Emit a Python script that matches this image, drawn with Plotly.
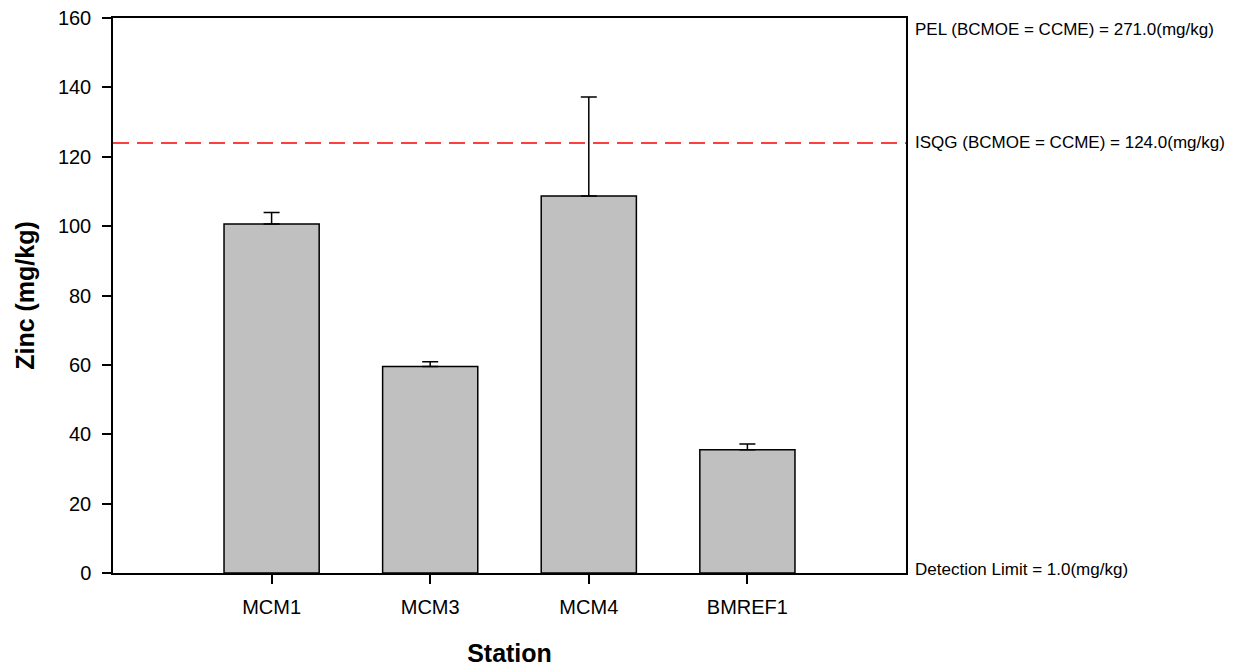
import plotly.graph_objects as go

stations = ["MCM1", "MCM3", "MCM4", "BMREF1"]
zinc_mean = [100.6, 59.5, 108.7, 35.5]
zinc_err = [3.3, 1.4, 28.5, 1.7]
isqg = 124.0
detection_limit = 1.0
ref_labels = ["PEL (BCMOE = CCME) = 271.0(mg/kg)",
              "ISQG (BCMOE = CCME) = 124.0(mg/kg)",
              "Detection Limit = 1.0(mg/kg)"]
y_ticks = [0, 20, 40, 60, 80, 100, 120, 140, 160]

font_family = "Arial, Liberation Sans, sans-serif"
xpos = list(range(1, len(stations) + 1))

fig = go.Figure()
fig.add_trace(go.Bar(
    x=xpos, y=zinc_mean, width=0.6,
    marker=dict(color="#c0c0c0", line=dict(color="black", width=1.5)),
    error_y=dict(type="data", symmetric=False, array=zinc_err,
                 arrayminus=[0] * len(zinc_err), color="black", thickness=1.5, width=8),
    showlegend=False,
))

fig.add_shape(type="line", xref="paper", x0=0, x1=1, yref="y", y0=isqg, y1=isqg,
              line=dict(color="red", width=1.5, dash="16px,8px"))

ann_font = dict(size=17, color="black", family=font_family)
fig.add_annotation(xref="paper", x=1.0, xshift=7, yref="paper", y=1.0, yanchor="top", xanchor="left",
                   text=ref_labels[0], showarrow=False, font=ann_font)
fig.add_annotation(xref="paper", x=1.0, xshift=7, yref="y", y=isqg, yanchor="middle", xanchor="left",
                   text=ref_labels[1], showarrow=False, font=ann_font)
fig.add_annotation(xref="paper", x=1.0, xshift=7, yref="y", y=detection_limit, yanchor="middle", xanchor="left",
                   text=ref_labels[2], showarrow=False, font=ann_font)

fig.update_layout(
    width=1225, height=659,
    margin=dict(l=105, r=327, t=10, b=94),
    paper_bgcolor="white", plot_bgcolor="white",
    font=dict(family=font_family, color="black", size=20),
)
fig.update_xaxes(range=[0, 5], tickvals=xpos, ticktext=stations, automargin=False,
                 showline=True, linecolor="black", linewidth=1.5, mirror=True,
                 ticks="outside", ticklen=9, tickwidth=1.5, tickcolor="black",
                 ticklabelstandoff=6, ticklabeloverflow="allow",
                 showgrid=False, zeroline=False,
                 title=dict(text="<b>Station</b>", font=dict(size=25), standoff=30))
fig.update_yaxes(range=[0, 160], tickvals=y_ticks, automargin=False,
                 showline=True, linecolor="black", linewidth=1.5, mirror=True,
                 ticks="outside", ticklen=9, tickwidth=1.5, tickcolor="black",
                 ticklabelstandoff=7, ticklabeloverflow="allow",
                 showgrid=False, zeroline=False,
                 title=dict(text="<b>Zinc (mg/kg)</b>", font=dict(size=25), standoff=16))

fig.write_html("out.html")
